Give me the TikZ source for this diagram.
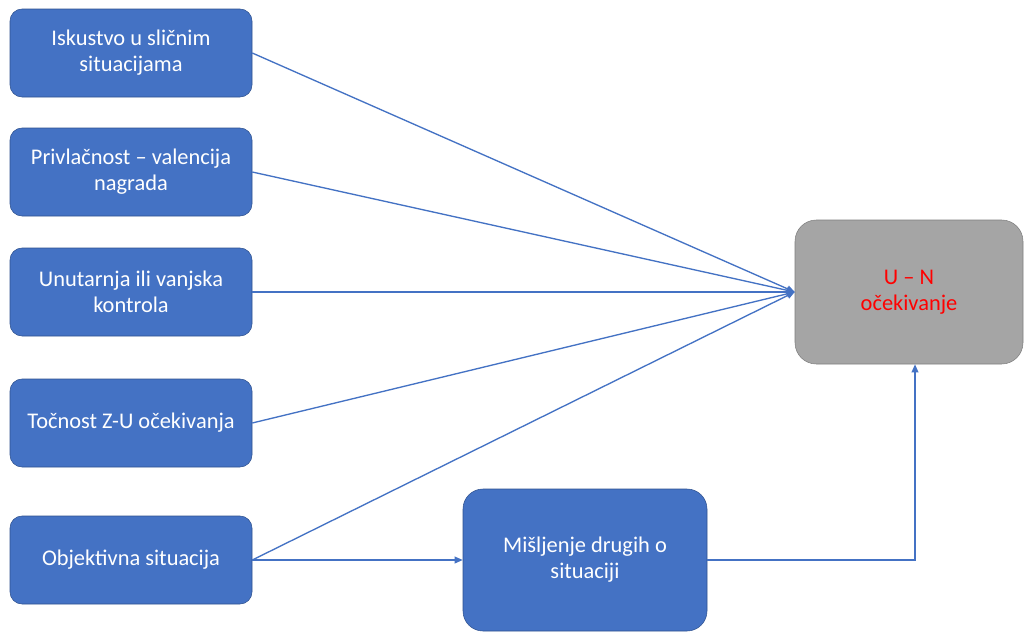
\documentclass[tikz,border=0pt]{standalone}
\usepackage{fontspec}
\setmainfont{Carlito}
\usepackage{xcolor}
\usepackage{tikz}
\usetikzlibrary{arrows.meta,positioning}
\definecolor{officeblue}{HTML}{4472C4}
\definecolor{officeedge}{HTML}{2F528F}
\definecolor{officegray}{HTML}{A5A5A5}
\definecolor{grayedge}{HTML}{7F7F7F}

\begin{document}
\begin{tikzpicture}[x=0.75pt,y=-0.75pt,
  factor/.style={draw=officeedge,fill=officeblue,rounded corners=9pt,minimum width=181.5pt,minimum height=66pt,align=center,text=white,font=\fontsize{16.8}{19.5}\selectfont},
  opinion/.style={factor,rounded corners=15pt,minimum width=183pt,minimum height=106.5pt},
  outcome/.style={draw=grayedge,fill=officegray,rounded corners=16pt,minimum width=171pt,minimum height=108pt,align=center,text=red,font=\fontsize{16.8}{19.5}\selectfont},
  arrow/.style={-{Triangle[length=6pt,width=5pt]},draw=officeblue,line width=1pt}
]
\useasboundingbox (0,0) rectangle (1024,632);
\fill[white] (0,0) rectangle (1024,632);
\node[factor] (iskustvo) at (131,53) {Iskustvo u sličnim\\situacijama};
\node[factor] (privlacnost) at (131,172) {Privlačnost – valencija\\nagrada};
\node[factor] (kontrola) at (131,292) {Unutarnja ili vanjska\\kontrola};
\node[factor] (tocnost) at (131,423) {Točnost Z-U očekivanja};
\node[factor] (situacija) at (131,560) {Objektivna situacija};
\node[opinion] (misljenje) at (585,560) {Mišljenje drugih o\\situaciji};
\node[outcome] (ocekivanje) at (909,292) {U – N\\očekivanje};
\draw[arrow] (iskustvo.east) -- (ocekivanje.west);
\draw[arrow] (privlacnost.east) -- (ocekivanje.west);
\draw[arrow] (kontrola.east) -- (ocekivanje.west);
\draw[arrow] (tocnost.east) -- (ocekivanje.west);
\draw[arrow] (situacija.east) -- (ocekivanje.west);
\draw[arrow] (situacija.east) -- (misljenje.west);
\draw[arrow] (misljenje.east) -| ([xshift=4.5pt]ocekivanje.south);
\end{tikzpicture}
\end{document}
